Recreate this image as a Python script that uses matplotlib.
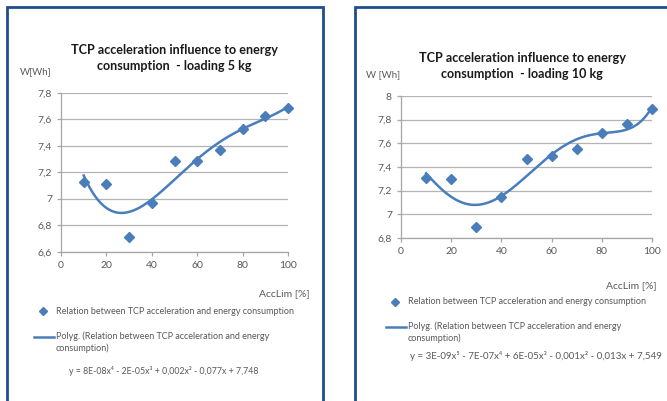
import numpy as np
import matplotlib.pyplot as plt
from matplotlib.patches import Rectangle

plt.rcParams['font.family'] = ['Lato', 'DejaVu Sans']

# data
acc_lim = [10, 20, 30, 40, 50, 60, 70, 80, 90, 100]
energy_5kg = [7.13, 7.11, 6.71, 6.97, 7.29, 7.29, 7.37, 7.53, 7.63, 7.69]
energy_10kg = [7.31, 7.30, 6.89, 7.15, 7.47, 7.49, 7.55, 7.69, 7.76, 7.89]

titles = ["TCP acceleration influence to energy\nconsumption  - loading 5 kg",
          "TCP acceleration influence to energy\nconsumption  - loading 10 kg"]
ylabels = ["W[Wh]", "W [Wh]"]
equations = ["y = 8E-08x\u2074 - 2E-05x\u00b3 + 0,002x\u00b2 - 0,077x + 7,748",
             "y = 3E-09x\u2075 - 7E-07x\u2074 + 6E-05x\u00b3 - 0,001x\u00b2 - 0,013x + 7,549"]
legend_pts = "Relation between TCP acceleration and energy consumption"
legend_fit = "Polyg. (Relation between TCP acceleration and energy\nconsumption)"

W, H = 667, 401
blue = '#4a7ebb'
border = '#1f4e8f'
gray_txt = '#595959'

fig = plt.figure(figsize=(W / 100, H / 100), dpi=100)


def fx(px):
    return px / W


def fy(py):
    return 1 - py / H


def comma(v, pos=None):
    s = ('%.1f' % v).rstrip('0').rstrip('.')
    return s.replace('.', ',')


# panel frames
fig.patches.append(Rectangle((fx(7), fy(420)), fx(316), fy(7) - fy(420),
                             transform=fig.transFigure, fill=False,
                             ec=border, lw=2))
fig.patches.append(Rectangle((fx(355), fy(420)), fx(330), fy(7) - fy(420),
                             transform=fig.transFigure, fill=False,
                             ec=border, lw=2))

panels = [
    dict(y=energy_5kg, deg=4, box=(61, 93, 288, 252), ylim=(6.6, 7.8),
         title_xy=(174, 58), ylab_xy=(36, 72), xlab_xy=(310, 294),
         leg_x=43, leg_y=(311, 337, 371), eq_x=69, eq_fs=6.3),
    dict(y=energy_10kg, deg=5, box=(401, 96, 652, 238), ylim=(6.8, 8.0),
         title_xy=(522, 66), ylab_xy=(383, 75), xlab_xy=(657, 286),
         leg_x=395, leg_y=(302, 327, 356), eq_x=410, eq_fs=7),
]

for i, p in enumerate(panels):
    x0, y0, x1, y1 = p['box']
    ax = fig.add_axes([fx(x0), fy(y1), fx(x1 - x0), fy(y0) - fy(y1)])
    ax.set_xlim(0, 100)
    ax.set_ylim(*p['ylim'])
    ax.set_xticks(range(0, 101, 20))
    ax.set_yticks(np.arange(p['ylim'][0], p['ylim'][1] + 0.01, 0.2))
    ax.yaxis.set_major_formatter(plt.FuncFormatter(comma))
    ax.grid(axis='y', color='#b4b4b4', lw=0.9)
    ax.set_axisbelow(True)
    for s in ['top', 'right']:
        ax.spines[s].set_visible(False)
    for s in ['left', 'bottom']:
        ax.spines[s].set_color('#a6a6a6')
        ax.spines[s].set_linewidth(0.9)
    ax.tick_params(colors='#a6a6a6', labelcolor=gray_txt, labelsize=7.5,
                   length=3, width=0.9, direction='out')

    # polynomial trend line fitted to the points
    coef = np.polyfit(acc_lim, p['y'], p['deg'])
    xs = np.linspace(acc_lim[0], acc_lim[-1], 200)
    ax.plot(xs, np.polyval(coef, xs), color=blue, lw=1.8, zorder=2)
    ax.plot(acc_lim, p['y'], 'D', color=blue, ms=4.8, zorder=3, clip_on=False)

    tx, ty = p['title_xy']
    fig.text(fx(tx), fy(ty), titles[i], ha='center', va='center',
             fontsize=9.1, fontweight='bold', color='#1a1a1a', linespacing=1.35)
    fig.text(fx(p['ylab_xy'][0]), fy(p['ylab_xy'][1]), ylabels[i],
             ha='center', va='center', fontsize=7, color=gray_txt)
    fig.text(fx(p['xlab_xy'][0]), fy(p['xlab_xy'][1]), "AccLim [%]",
             ha='right', va='center', fontsize=7.5, color=gray_txt)

    lx = p['leg_x']
    ly_pts, ly_fit, ly_eq = p['leg_y']
    fig.lines.append(plt.Line2D([fx(lx)], [fy(ly_pts)], marker='D', ms=4,
                                color=blue, transform=fig.transFigure))
    fig.text(fx(lx + 13), fy(ly_pts), legend_pts, ha='left', va='center',
             fontsize=6.5, color=gray_txt)
    fig.lines.append(plt.Line2D([fx(lx - 9), fx(lx + 11)], [fy(ly_fit)] * 2,
                                lw=1.8, color=blue, transform=fig.transFigure))
    fig.text(fx(lx + 13), fy(ly_fit - 6), legend_fit, ha='left', va='top',
             fontsize=6.5, color=gray_txt, linespacing=1.45)
    fig.text(fx(p['eq_x']), fy(ly_eq), equations[i], ha='left', va='center',
             fontsize=p['eq_fs'], color=gray_txt)

fig.savefig('out.png', dpi=100)
